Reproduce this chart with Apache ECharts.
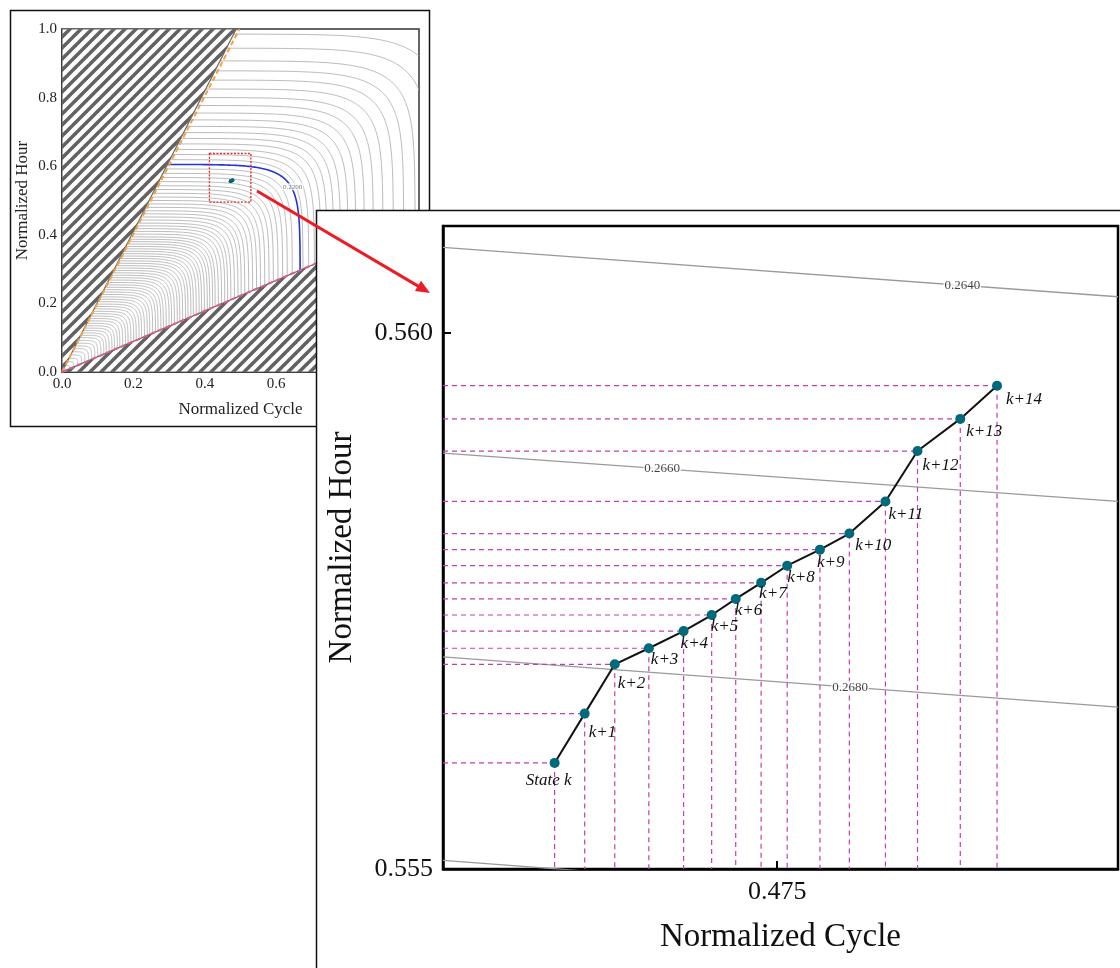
<!DOCTYPE html>
<html><head><meta charset="utf-8">
<script src="https://cdn.jsdelivr.net/npm/echarts@6/dist/echarts.min.js"></script>
<style>html,body{margin:0;padding:0;background:#fff}#c{width:1120px;height:968px}</style>
</head><body><div id="c"></div>
<script>
// ================= DATA =================
// trajectory states (zoomed view)
const stateLabels = ['State k','k+1','k+2','k+3','k+4','k+5','k+6','k+7','k+8','k+9','k+10','k+11','k+12','k+13','k+14'];
const cycleValues = [0.47167,0.47212,0.47257,0.47308,0.47360,0.47402,0.47438,0.47476,0.47515,0.47564,0.47608,0.47662,0.47710,0.47774,0.47829];
const hourValues  = [0.55599,0.55645,0.55691,0.55706,0.55722,0.55737,0.55752,0.55767,0.55783,0.55798,0.55813,0.55843,0.55890,0.55920,0.55951];

// contour lines crossing the zoomed window
const zoomContourLevels = ['0.2640','0.2660','0.2680',''];
const zoomContourStart  = [[0.4700,0.56080],[0.4700,0.55888],[0.4700,0.55698],[0.4700,0.55508]];
const zoomContourEnd    = [[0.4801,0.56034],[0.4801,0.55843],[0.4801,0.55651],[0.4801,0.55461]];
const zoomLabelAt       = [[0.47777,0.560446],[0.47328,0.558734],[0.47609,0.556697]];

// zoomed axis ticks
const zoomCycleTicks = [0.475];
const zoomHourTicks  = [0.555, 0.560];

// overview contours: height of flat part (h) and position of vertical part (w)
const overviewH = [0.985,0.944,0.907,0.878,0.851,0.825,0.800,0.777,0.755,0.735,0.716,0.698,0.681,0.665,0.649,0.634,0.619,0.592,0.579,0.567,0.555,0.543,0.532,0.521,0.510,0.500,0.490,0.480,0.470,0.461,0.452,0.443,0.434,0.426,0.418,0.410,0.402,0.394,0.387,0.380,0.373,0.366,0.359,0.352,0.345,0.338,0.331,0.324,0.317,0.310,0.303,0.296,0.289,0.282,0.275,0.268,0.261,0.254,0.247,0.240,0.233,0.226,0.219,0.212,0.205,0.198,0.191,0.184,0.177,0.170,0.163,0.156,0.149,0.142,0.135,0.128,0.121,0.114,0.107,0.100,0.092,0.084,0.076,0.068,0.059,0.050,0.040,0.030,0.019];
const overviewW = [1.074,1.029,0.989,0.957,0.928,0.899,0.872,0.847,0.823,0.801,0.780,0.761,0.742,0.725,0.707,0.691,0.675,0.645,0.631,0.618,0.605,0.592,0.580,0.568,0.556,0.545,0.534,0.523,0.512,0.502,0.493,0.483,0.473,0.464,0.456,0.447,0.438,0.429,0.422,0.414,0.407,0.399,0.391,0.384,0.376,0.368,0.361,0.353,0.346,0.338,0.330,0.323,0.315,0.307,0.300,0.292,0.284,0.277,0.269,0.262,0.254,0.246,0.239,0.231,0.223,0.216,0.208,0.201,0.193,0.185,0.178,0.170,0.162,0.155,0.147,0.140,0.132,0.124,0.117,0.109,0.100,0.092,0.083,0.074,0.064,0.055,0.044,0.033,0.021];
const highlightLevel = '0.2200';
const highlightH = [0.605];
const highlightW = [0.667];
const highlightLabelAt = [0.646, 0.540];

// infeasible regions & boundaries in overview
const upperInfeasible = [[0,0],[0,1],[0.488,1]];
const lowerInfeasible = [[0,0],[1,0],[1,0.445]];
const upperBoundLine = [[0,0],[0.497,1]];
const lowerBoundLine = [[0,0],[1,0.445]];
const zoomWindow = [0.413, 0.495, 0.529, 0.637]; // x0,y0,x1,y1

// ================= STYLE / RENDER =================
const SERIF = '"Liberation Serif","Times New Roman",serif';
const TEAL = '#00697a';
const GUIDE = '#c43cb6';
const P = 10;
const Z_MIN_X = 0.47, Z_MAX_X = 0.4801, Z_MIN_Y = 0.555, Z_MAX_Y = 0.561;

const labelOffsets = [[-6,18],[4,19],[3,19],[2,11],[-3,12],[-1,12],[-1,12],[-2,11],[0,12],[-3,13],[6,12],[3,13],[5,14],[6,13],[9,14]];

// hatch pattern
const T = 11;
const hatch = document.createElement('canvas');
hatch.width = T; hatch.height = T;
(function(){
  const g = hatch.getContext('2d');
  g.fillStyle = '#fff'; g.fillRect(0,0,T,T);
  g.strokeStyle = '#626262'; g.lineWidth = 3.6;
  [[-T,T,T,-T],[0,T,T,0],[0,2*T,2*T,0]].forEach(function(l){ g.beginPath(); g.moveTo(l[0],l[1]); g.lineTo(l[2],l[3]); g.stroke(); });
})();

function contourRender(color, width) {
  return function(params, api) {
    const h = api.value(0), w = api.value(1);
    const pts = [];
    const N = 120;
    for (let i = 0; i <= N; i++) {
      const t = i / N * Math.PI / 2;
      pts.push(api.coord([w * Math.pow(Math.cos(t), 2 / P), h * Math.pow(Math.sin(t), 2 / P)]));
    }
    return { type: 'polyline', shape: { points: pts }, style: { stroke: color, lineWidth: width, fill: null } };
  };
}

const chart = echarts.init(document.getElementById('c'), null, { renderer: 'canvas' });

const pointData = cycleValues.map(function(x, i) {
  const o = labelOffsets[i];
  return {
    value: [x, hourValues[i]],
    label: { show: true, formatter: stateLabels[i], position: 'inside', align: i === 0 ? 'center' : 'left', verticalAlign: 'middle', offset: o }
  };
});

const option = {
  animation: false,
  backgroundColor: '#fff',
  graphic: [
    { type: 'rect', z: 0, shape: { x: 10.5, y: 10.5, width: 419, height: 416 }, style: { fill: '#fff', stroke: '#111', lineWidth: 1.5 } },
    { type: 'rect', z: 10, shape: { x: 316.5, y: 210.5, width: 820, height: 780 }, style: { fill: '#fff', stroke: '#111', lineWidth: 1.5 } },
    { type: 'line', z: 60, shape: { x1: 257, y1: 191, x2: 419, y2: 286.6 }, style: { stroke: '#ec1c24', lineWidth: 3 } },
    { type: 'polygon', z: 60, shape: { points: [[430, 293], [414.9, 291.1], [421, 280.8]] }, style: { fill: '#ec1c24' } }
  ],
  grid: [
    { left: 62, top: 29, width: 357, height: 343, show: true, borderColor: '#333', borderWidth: 1.5, z: 1 },
    { left: 443, top: 226, width: 675, height: 643, show: true, borderColor: '#000', borderWidth: 2.5, z: 20, backgroundColor: 'transparent' }
  ],
  xAxis: [
    { gridIndex: 0, type: 'value', min: 0, max: 1, interval: 0.2, z: 1,
      name: 'Normalized Cycle', nameLocation: 'middle', nameGap: 29,
      nameTextStyle: { fontFamily: SERIF, fontSize: 17, color: '#222' },
      axisLine: { lineStyle: { color: '#333', width: 1.5 } }, axisTick: { show: false }, splitLine: { show: false },
      axisLabel: { fontFamily: SERIF, fontSize: 15, color: '#222', margin: 5, formatter: function(v){ return v.toFixed(1); } } },
    { gridIndex: 1, type: 'value', min: Z_MIN_X, max: Z_MAX_X, z: 20,
      name: 'Normalized Cycle', nameLocation: 'middle', nameGap: 52,
      nameTextStyle: { fontFamily: SERIF, fontSize: 33, color: '#111' },
      axisLine: { lineStyle: { color: '#000', width: 2.5 } }, splitLine: { show: false },
      axisTick: { inside: true, length: 8, customValues: zoomCycleTicks, lineStyle: { color: '#000', width: 2 } },
      axisLabel: { customValues: zoomCycleTicks, fontFamily: SERIF, fontSize: 26, color: '#111', margin: 10, formatter: function(v){ return v.toFixed(3); } } }
  ],
  yAxis: [
    { gridIndex: 0, type: 'value', min: 0, max: 1, interval: 0.2, z: 1,
      name: 'Normalized Hour', nameLocation: 'middle', nameGap: 31,
      nameTextStyle: { fontFamily: SERIF, fontSize: 17, color: '#222' },
      axisLine: { lineStyle: { color: '#333', width: 1.5 } }, axisTick: { show: false }, splitLine: { show: false },
      axisLabel: { fontFamily: SERIF, fontSize: 15, color: '#222', margin: 5, formatter: function(v){ return v.toFixed(1); } } },
    { gridIndex: 1, type: 'value', min: Z_MIN_Y, max: Z_MAX_Y, interval: 0.005, z: 20,
      name: 'Normalized Hour', nameLocation: 'middle', nameGap: 84,
      nameTextStyle: { fontFamily: SERIF, fontSize: 33, color: '#111' },
      axisLine: { lineStyle: { color: '#000', width: 2.5 } }, splitLine: { show: false },
      axisTick: { inside: true, length: 8, customValues: zoomHourTicks, lineStyle: { color: '#000', width: 2 } },
      axisLabel: { customValues: zoomHourTicks, fontFamily: SERIF, fontSize: 26, color: '#111', margin: 10, formatter: function(v){ return v.toFixed(3); } } }
  ],
  series: [
    // ---- overview ----
    { type: 'custom', xAxisIndex: 0, yAxisIndex: 0, z: 2, clip: true, silent: true,
      renderItem: contourRender('#a8a8a8', 0.8),
      data: overviewH.map(function(h, i){ return [h, overviewW[i]]; }) },
    { type: 'custom', xAxisIndex: 0, yAxisIndex: 0, z: 3, clip: true, silent: true,
      renderItem: contourRender('#2233dd', 1.6),
      data: highlightH.map(function(h, i){ return [h, highlightW[i]]; }) },
    { type: 'custom', xAxisIndex: 0, yAxisIndex: 0, z: 4, clip: true, silent: true,
      renderItem: function(params, api) {
        const poly = [upperInfeasible, lowerInfeasible][params.dataIndex].map(function(p){ return api.coord(p); });
        return { type: 'polygon', shape: { points: poly }, style: { fill: { image: hatch, repeat: 'repeat' }, stroke: '#6a6a6a', lineWidth: 1.2 } };
      },
      data: [0, 1] },
    { type: 'line', xAxisIndex: 0, yAxisIndex: 0, z: 5, symbol: 'none', silent: true,
      data: upperBoundLine, lineStyle: { color: '#f7a040', width: 2, type: [5, 3] } },
    { type: 'line', xAxisIndex: 0, yAxisIndex: 0, z: 5, symbol: 'none', silent: true,
      data: lowerBoundLine, lineStyle: { color: '#e05a8a', width: 2, type: [5, 3] } },
    { type: 'custom', xAxisIndex: 0, yAxisIndex: 0, z: 5, silent: true,
      renderItem: function(params, api) {
        const a = api.coord([zoomWindow[0], zoomWindow[3]]);
        const b = api.coord([zoomWindow[2], zoomWindow[1]]);
        return { type: 'rect', shape: { x: a[0], y: a[1], width: b[0]-a[0], height: b[1]-a[1] }, style: { fill: null, stroke: '#e8262a', lineWidth: 1.3, lineDash: [2, 1.5] } };
      },
      data: [0] },
    { type: 'scatter', xAxisIndex: 0, yAxisIndex: 0, z: 6, silent: true, symbolSize: 0,
      data: [{ value: highlightLabelAt, label: { show: true, formatter: highlightLevel, position: 'inside', fontFamily: SERIF, fontSize: 7, color: '#555', backgroundColor: '#fff', padding: [0, 1] } }] },
    { type: 'line', xAxisIndex: 0, yAxisIndex: 0, z: 6, silent: true, symbol: 'circle', symbolSize: 3.5,
      data: cycleValues.map(function(x, i){ return [x, hourValues[i]]; }),
      lineStyle: { color: TEAL, width: 1.5 }, itemStyle: { color: TEAL } },
    // ---- zoomed view ----
    { type: 'line', xAxisIndex: 1, yAxisIndex: 1, z: 21, symbol: 'none', silent: true, clip: true,
      data: [zoomContourStart[0], zoomContourEnd[0]], lineStyle: { color: '#9a9a9a', width: 1.3 } },
    { type: 'line', xAxisIndex: 1, yAxisIndex: 1, z: 21, symbol: 'none', silent: true, clip: true,
      data: [zoomContourStart[1], zoomContourEnd[1]], lineStyle: { color: '#9a9a9a', width: 1.3 } },
    { type: 'line', xAxisIndex: 1, yAxisIndex: 1, z: 21, symbol: 'none', silent: true, clip: true,
      data: [zoomContourStart[2], zoomContourEnd[2]], lineStyle: { color: '#9a9a9a', width: 1.3 } },
    { type: 'line', xAxisIndex: 1, yAxisIndex: 1, z: 21, symbol: 'none', silent: true, clip: true,
      data: [zoomContourStart[3], zoomContourEnd[3]], lineStyle: { color: '#9a9a9a', width: 1.3 } },
    { type: 'custom', xAxisIndex: 1, yAxisIndex: 1, z: 22, silent: true,
      renderItem: function(params, api) {
        const x = api.value(0), y = api.value(1);
        const p = api.coord([x, y]);
        const l = api.coord([Z_MIN_X, y]);
        const b = api.coord([x, Z_MIN_Y]);
        const st = { stroke: GUIDE, lineWidth: 1.2, lineDash: [5, 4] };
        return { type: 'group', children: [
          { type: 'line', shape: { x1: l[0], y1: p[1], x2: p[0], y2: p[1] }, style: st },
          { type: 'line', shape: { x1: p[0], y1: p[1], x2: p[0], y2: b[1] }, style: st }
        ] };
      },
      data: cycleValues.map(function(x, i){ return [x, hourValues[i]]; }) },
    { type: 'scatter', xAxisIndex: 1, yAxisIndex: 1, z: 23, silent: true, symbolSize: 0,
      data: zoomLabelAt.map(function(p, i){ return { value: p, label: { show: true, formatter: zoomContourLevels[i], position: 'inside', fontFamily: SERIF, fontSize: 13, color: '#111', backgroundColor: '#fff', padding: [0, 1] } }; }) },
    { type: 'line', xAxisIndex: 1, yAxisIndex: 1, z: 24, silent: true, symbol: 'circle', symbolSize: 10,
      data: pointData,
      lineStyle: { color: '#111', width: 2 }, itemStyle: { color: TEAL },
      label: { fontFamily: SERIF, fontStyle: 'italic', fontSize: 17, color: '#111' } }
  ]
};
chart.setOption(option);
</script>
</body></html>
